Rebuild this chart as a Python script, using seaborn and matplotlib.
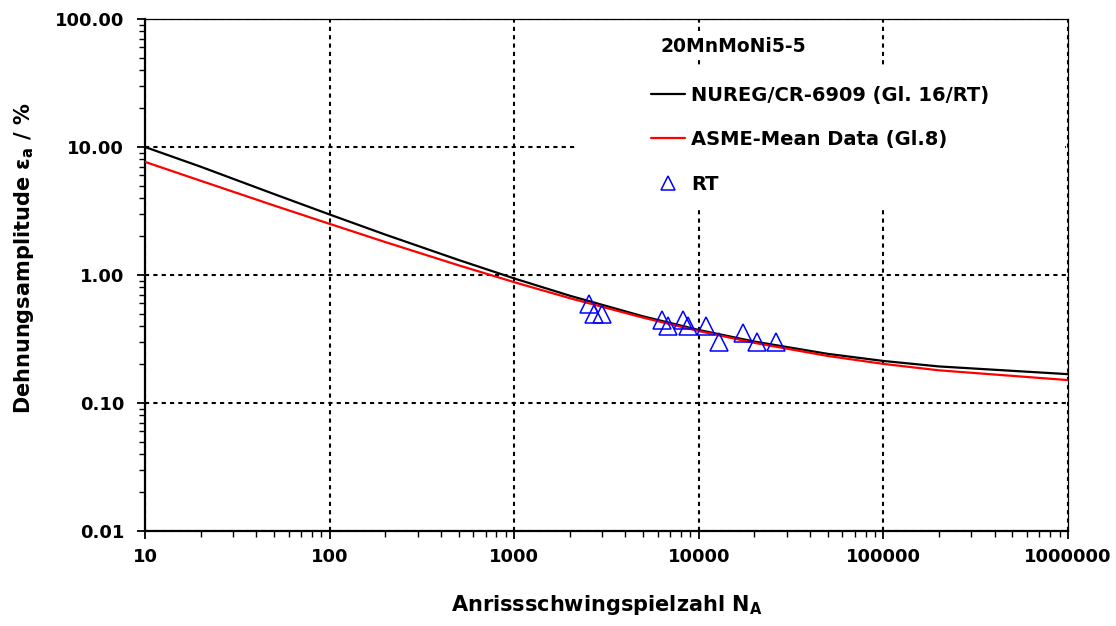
import matplotlib
matplotlib.use("Agg")
import matplotlib.pyplot as plt
import matplotlib.ticker as mticker
from matplotlib.patches import Rectangle
import seaborn as sns
import pandas as pd

# Fatigue curves (strain amplitude in % over cycles to crack initiation)
curve_cycles = [10, 20, 50, 100, 200, 500, 1000, 2000, 5000, 10000, 20000,
                50000, 100000, 200000, 1000000]
nureg_strain = [10.0, 7.02, 4.29, 2.97, 2.07, 1.31, 0.94, 0.689, 0.475, 0.372,
                0.302, 0.242, 0.213, 0.193, 0.168]
asme_strain = [7.65, 5.45, 3.49, 2.51, 1.81, 1.19, 0.879, 0.659, 0.464, 0.365,
               0.295, 0.233, 0.202, 0.180, 0.151]

# Room-temperature test results
rt_cycles = [2550, 2690, 2980, 6300, 6810, 8240, 8770, 10940, 12910, 17420,
             20750, 26170]
rt_strain = [0.591, 0.494, 0.494, 0.445, 0.401, 0.445, 0.401, 0.401, 0.302,
             0.352, 0.302, 0.302]

material = "20MnMoNi5-5"
label_nureg = "NUREG/CR-6909 (Gl. 16/RT)"
label_asme = "ASME-Mean Data (Gl.8)"
label_rt = "RT"

x_ticks = [10, 100, 1000, 10000, 100000, 1000000]
y_ticks = [0.01, 0.1, 1, 10, 100]

sns.set_theme(style="white", rc={
    "xtick.bottom": True, "ytick.left": True,
    "text.color": "black", "axes.labelcolor": "black",
    "xtick.color": "black", "ytick.color": "black",
})
plt.rcParams["font.family"] = ["DejaVu Sans"]
plt.rcParams["font.weight"] = "bold"
plt.rcParams["mathtext.fontset"] = "custom"
plt.rcParams["mathtext.rm"] = "DejaVu Sans"
plt.rcParams["mathtext.it"] = "DejaVu Sans"
plt.rcParams["mathtext.bf"] = "DejaVu Sans:bold"

curves = pd.DataFrame({"N": curve_cycles, "nureg": nureg_strain,
                       "asme": asme_strain})
tests = pd.DataFrame({"N": rt_cycles, "eps": rt_strain})

fig = plt.figure(figsize=(11.16, 6.26), dpi=100)
ax = fig.add_axes([145 / 1116, 1 - 531 / 626, 923 / 1116, 512 / 626])

sns.lineplot(data=curves, x="N", y="nureg", ax=ax, color="black", lw=1.6,
             label=label_nureg, zorder=3)
sns.lineplot(data=curves, x="N", y="asme", ax=ax, color="#ff0000", lw=1.6,
             label=label_asme, zorder=3)
sns.lineplot(data=tests, x="N", y="eps", ax=ax, estimator=None, sort=False,
             linestyle="", marker="^", ms=13, mfc="none", mec="#0000ff",
             mew=1.1, label=label_rt, zorder=4)

ax.set_xscale("log")
ax.set_yscale("log")
ax.set_xlim(10, 1000000)
ax.set_ylim(0.01, 100)
ax.set_xticks(x_ticks)
ax.set_yticks(y_ticks)
ax.xaxis.set_major_formatter(mticker.FuncFormatter(lambda v, p: f"{v:.0f}"))
ax.yaxis.set_major_formatter(mticker.FuncFormatter(lambda v, p: f"{v:.2f}"))
ax.xaxis.set_minor_locator(mticker.LogLocator(base=10, subs=range(2, 10), numticks=20))
ax.yaxis.set_minor_locator(mticker.LogLocator(base=10, subs=range(2, 10), numticks=20))
ax.xaxis.set_minor_formatter(mticker.NullFormatter())
ax.yaxis.set_minor_formatter(mticker.NullFormatter())

ax.tick_params(axis="both", which="major", direction="out", length=6,
               width=1.3, color="black", labelsize=13, labelcolor="black",
               bottom=True, left=True)
ax.tick_params(axis="both", which="minor", direction="out", length=4,
               width=1.0, color="black", bottom=True, left=True)
ax.tick_params(axis="y", which="major", pad=9)
ax.tick_params(axis="x", which="major", pad=6)
for lab in ax.get_xticklabels() + ax.get_yticklabels():
    lab.set_fontweight("bold")

ax.set_axisbelow(True)
ax.grid(True, which="major", color="black", linestyle=(0, (2, 2)), lw=1.5)

for side in ["left", "bottom"]:
    ax.spines[side].set_color("black")
    ax.spines[side].set_linewidth(1.6)
for side in ["top", "right"]:
    ax.spines[side].set_color("black")
    ax.spines[side].set_linewidth(0.9)

ax.set_xlabel(r"Anrissschwingspielzahl $\mathbf{N_A}$", fontsize=15,
              fontweight="bold", labelpad=20)
ax.set_ylabel(r"Dehnungsamplitude $\mathrm{\varepsilon_a}$ / %", fontsize=15,
              fontweight="bold")
ax.yaxis.set_label_coords(-0.118, 0.533)

# white area behind the legend block
bg = Rectangle(((578 - 145) / 923, (531 - 210) / 512), (1065 - 578) / 923,
               (210 - 66) / 512, transform=ax.transAxes, facecolor="white",
               edgecolor="none", zorder=1)
ax.add_patch(bg)

ax.text((660 - 145) / 923, (531 - 46) / 512, material, transform=ax.transAxes,
        fontsize=13.5, fontweight="bold", va="center", ha="left", zorder=5,
        bbox=dict(facecolor="white", edgecolor="none", pad=2))

handles, labels = ax.get_legend_handles_labels()
leg = ax.legend(handles, labels, loc="upper left",
                bbox_to_anchor=((651 - 145) / 923, (531 - 86) / 512),
                frameon=False, fontsize=14, handlelength=1.75,
                handletextpad=0.3, labelspacing=1.3, markerscale=0.8,
                borderaxespad=0, borderpad=0)
for t in leg.get_texts():
    t.set_fontweight("bold")

fig.savefig("out.png", dpi=100, facecolor="white")
